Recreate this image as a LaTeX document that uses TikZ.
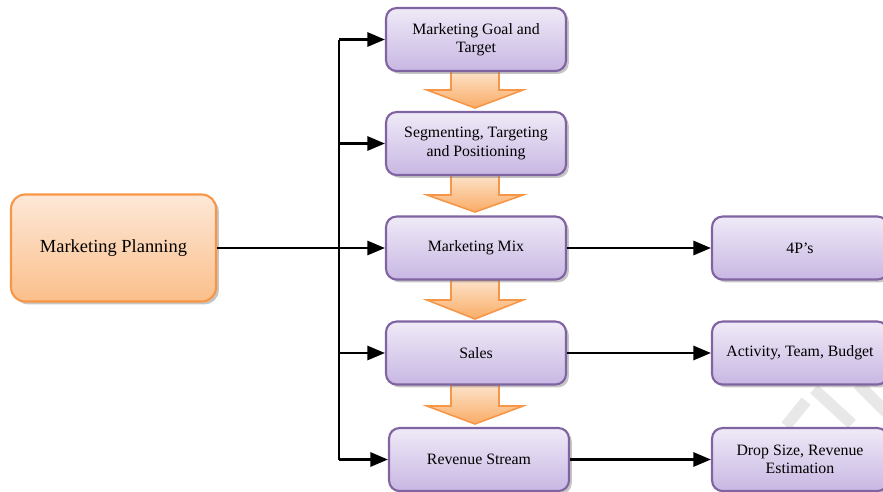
\documentclass[tikz,border=0pt]{standalone}
\usepackage{fontspec}
\setmainfont{Liberation Serif}
\usetikzlibrary{arrows.meta,shadows,positioning}

\definecolor{orangeline}{HTML}{F79646}
\definecolor{orangetop}{HTML}{FDE8D8}
\definecolor{orangebot}{HTML}{FBBF8A}
\definecolor{purpleline}{HTML}{8064A2}
\definecolor{purpletop}{HTML}{EFEAF7}
\definecolor{purplebot}{HTML}{C8B7E3}
\definecolor{flowtop}{HTML}{FDE2C9}
\definecolor{flowbot}{HTML}{F9AC66}

\tikzset{
  boxshadow/.style={drop shadow={shadow xshift=1.6pt,shadow yshift=-1.6pt,fill=black!50,opacity=0.45}},
  planbox/.style={draw=orangeline,line width=1.2pt,rounded corners=8pt,
    top color=orangetop,bottom color=orangebot,minimum width=4.1cm,minimum height=2.14cm,
    font=\fontsize{10.5}{12}\selectfont,boxshadow},
  stagebox/.style={draw=purpleline,line width=1.2pt,rounded corners=6pt,
    top color=purpletop,bottom color=purplebot,minimum width=3.6cm,minimum height=1.26cm,
    align=center,font=\fontsize{9}{10.5}\selectfont,boxshadow},
  resultbox/.style={stagebox,minimum width=3.52cm},
  link/.style={line width=1.5pt,-{Triangle[length=10pt,width=8pt]}},
  flow/.style={draw=orangeline,line width=0.9pt,top color=flowtop,bottom color=flowbot}
}

\begin{document}
\begin{tikzpicture}[x=0.02cm,y=-0.02cm]

  \useasboundingbox (0,0) rectangle (883,491);

  % watermark
  \draw[gray!18,line width=6.5pt] (786,426) -- (806,401);
  \draw[gray!18,line width=6.5pt] (814,389) -- (852,424);
  \draw[gray!18,line width=6.5pt] (858,384) -- (890,416);

  % orange flow arrows between the stages
  \foreach \top/\base/\tip in {71/90/108,175/195/212,280/300/319,385/406/424}
    \draw[flow] (451,\top) -- (499,\top) -- (499,\base) -- (523,\base) -- (475,\tip)
                -- (427,\base) -- (451,\base) -- cycle;

  % boxes
  \node[planbox] (plan) at (113.5,248) {Marketing Planning};

  \node[stagebox] (goal)  at (476,39.5)  {Marketing Goal and\\Target};
  \node[stagebox] (stp)   at (476,143.5) {Segmenting, Targeting\\and Positioning};
  \node[stagebox] (mix)   at (476,248)   {Marketing Mix};
  \node[stagebox] (sales) at (476,353)   {Sales};
  \node[stagebox] (rev)   at (479,459.5) {Revenue Stream};

  \node[resultbox] (fourp)  at (800,248)   {4P's};
  \node[resultbox] (budget) at (800,353)   {Activity, Team, Budget};
  \node[resultbox] (drop)   at (800,459.5) {Drop Size, Revenue\\Estimation};

  % connectors
  \coordinate (split) at (339,248);
  \draw[link] (plan.east) -- (mix.west);
  \draw[line width=1.5pt] (split |- goal.west) -- (split |- rev.west);
  \foreach \b in {goal,stp,sales,rev}
    \draw[link] (split |- \b.west) -- (\b.west);

  \draw[link] (mix.east) -- (fourp.west);
  \draw[link] (sales.east) -- (budget.west);
  \draw[link] (rev.east) -- (drop.west);

\end{tikzpicture}
\end{document}
